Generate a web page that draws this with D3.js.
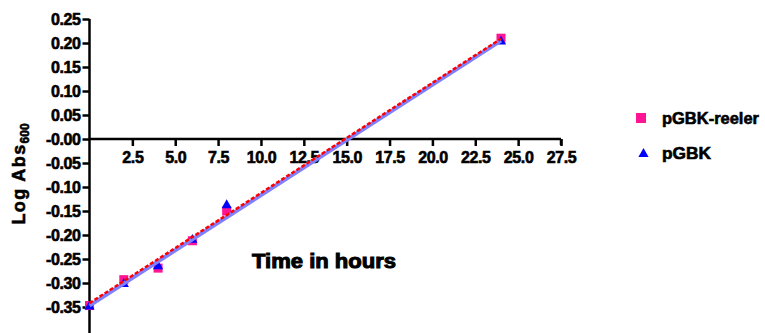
<!DOCTYPE html>
<html lang="en">
<head>
    <meta charset="UTF-8">
    <title>Log Abs600 vs time</title>
    <script src="https://d3js.org/d3.v7.min.js"></script>
    <style>
        body { margin: 0; background: #fff; }
        svg text { font-family: "Liberation Sans", Arial, sans-serif; font-weight: bold; fill: #000; stroke: #000; stroke-width: 0.6px; }
    </style>
</head>
<body>
<svg id="chart" width="765" height="333"></svg>
<script>
    // data
    const hours = [0, 2, 4, 6, 8, 24];
    const reeler = [-0.347, -0.293, -0.269, -0.212, -0.150, 0.210];
    const pgbk = [-0.349, -0.302, -0.265, -0.210, -0.138, 0.203];
    // fitted lines [intercept, slope]
    const reelerFit = [-0.342, 0.02295];
    const pgbkFit = [-0.347, 0.02300];
    const fitRange = [0, 24];

    const yTicks = [0.25, 0.20, 0.15, 0.10, 0.05, 0.00, -0.05, -0.10, -0.15, -0.20, -0.25, -0.30, -0.35];
    const yLabels = ['0.25', '0.20', '0.15', '0.10', '0.05', '-0.00', '-0.05', '-0.10', '-0.15', '-0.20', '-0.25', '-0.30', '-0.35'];
    const xTicks = [2.5, 5, 7.5, 10, 12.5, 15, 17.5, 20, 22.5, 25, 27.5];
    const xLabels = ['2.5', '5.0', '7.5', '10.0', '12.5', '15.0', '17.5', '20.0', '22.5', '25.0', '27.5'];

    const svg = d3.select('#chart');
    const x = d3.scaleLinear().domain([0, 27.5]).range([89.5, 561]);
    const y = d3.scaleLinear().domain([-0.4, 0.25]).range([331, 19]);

    // y axis
    const yAxis = svg.append('g').attr('transform', `translate(${x(0)},0)`)
        .call(d3.axisLeft(y).tickValues(yTicks).tickSize(7).tickPadding(2)
            .tickFormat((d, i) => yLabels[i]));
    yAxis.select('.domain').attr('d', `M0,${y(0.25)}V333`);
    // x axis through zero
    const xAxis = svg.append('g').attr('transform', `translate(0,${y(0)})`)
        .call(d3.axisBottom(x).tickValues(xTicks).tickSize(7).tickPadding(6)
            .tickFormat((d, i) => xLabels[i]));
    xAxis.select('.domain').attr('d', `M${x(0)},0H${x(27.5)}M${x(27.5)},0V6`);

    svg.selectAll('.domain, .tick line').attr('stroke', '#000').attr('stroke-width', 2.5);
    svg.selectAll('.tick text').attr('font-size', 16).attr('letter-spacing', -0.4)
        .attr('fill', '#000').attr('stroke', '#000').attr('stroke-width', 0.6)
        .style('font-family', '"Liberation Sans", Arial, sans-serif').style('font-weight', 'bold');

    // markers
    svg.append('g').selectAll('rect').data(hours).join('rect')
        .attr('x', (d) => x(d) - 4.5).attr('y', (d, i) => y(reeler[i]) - 4.5)
        .attr('width', 9).attr('height', 9).attr('fill', '#ff1493');
    const tri = d3.symbol().type(d3.symbolTriangle).size(45);
    svg.append('g').selectAll('path').data(hours).join('path')
        .attr('transform', (d, i) => `translate(${x(d)},${y(pgbk[i])})`)
        .attr('d', tri).attr('fill', '#0000ff');

    // fit lines
    const fitLine = (p) => d3.line()
        .x((d) => x(d)).y((d) => y(p[0] + p[1] * d))(fitRange);
    svg.append('path').attr('d', fitLine(pgbkFit))
        .attr('stroke', '#8080ff').attr('stroke-width', 4).attr('fill', 'none');
    svg.append('path').attr('d', fitLine(reelerFit))
        .attr('stroke', '#ff0000').attr('stroke-width', 2.5).attr('stroke-dasharray', '4,2').attr('fill', 'none');

    // titles
    svg.append('text').attr('x', 252).attr('y', 268).attr('font-size', 20)
        .attr('textLength', 144).attr('lengthAdjust', 'spacingAndGlyphs')
        .style('stroke-width', '1px').text('Time in hours');
    const yt = svg.append('text').attr('transform', 'translate(25,174) rotate(-90)')
        .attr('text-anchor', 'middle').attr('font-size', 18).attr('letter-spacing', 1.4);
    yt.append('tspan').text('Log Abs');
    yt.append('tspan').attr('font-size', 12).attr('dy', 4).attr('letter-spacing', 0).text('600');

    // legend
    const legend = svg.append('g');
    legend.append('rect').attr('x', 636).attr('y', 113).attr('width', 10).attr('height', 10).attr('fill', '#ff1493');
    legend.append('text').attr('x', 662).attr('y', 124).attr('font-size', 16)
        .attr('textLength', 97).attr('lengthAdjust', 'spacingAndGlyphs').text('pGBK-reeler');
    legend.append('path').attr('transform', 'translate(643.5,154)').attr('d', tri).attr('fill', '#0000ff');
    legend.append('text').attr('x', 662).attr('y', 159).attr('font-size', 16)
        .attr('textLength', 49).attr('lengthAdjust', 'spacingAndGlyphs').text('pGBK');
</script>
</body>
</html>
